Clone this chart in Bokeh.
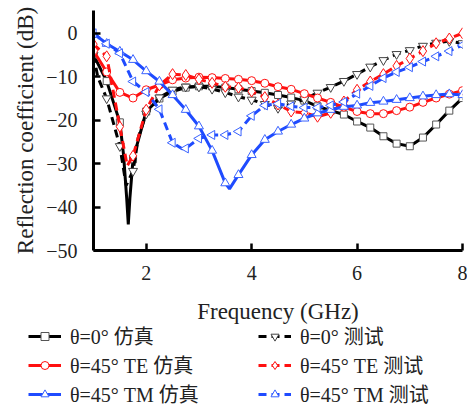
import math
from bokeh.plotting import figure
from bokeh.models import Legend, LegendItem, Range1d, FixedTicker
from bokeh.embed import file_html
from bokeh.resources import INLINE

# Frequency grid (GHz) where markers are placed
freq = [1.0, 1.25, 1.5, 1.75, 2.0, 2.25, 2.5, 2.75, 3.0, 3.25, 3.5, 3.75, 4.0, 4.25, 4.5,
        4.75, 5.0, 5.25, 5.5, 5.75, 6.0, 6.25, 6.5, 6.75, 7.0, 7.25, 7.5, 7.75, 8.0]

# theta=0 simulation
sim0 = [-5, -11, -20.5, -29, -18, -15, -13.4, -12.5, -12.2, -12.2, -12.5, -12.9, -13.3, -13.7, -14.2,
        -14.8, -15.5, -16.8, -17.8, -18.7, -20.3, -21.7, -23.7, -25.4, -26, -24, -21, -17.8, -14.9]
sim0_xf = [1.57, 1.63, 1.66, 1.69]
sim0_xv = [-28, -38, -44, -38]

# theta=0 measurement
mea0 = [-5, -15, -26, -31.7, -18.5, -14.8, -13, -12.3, -12.3, -12.8, -13.6, -14.6, -15.3, -16.3, -17.2,
        -16.2, -15.2, -13.7, -12.4, -11, -9.4, -7.7, -6.2, -4.8, -3.9, -2.9, -2.2, -1.8, -2.3]
mea0_xf = [1.08, 1.62, 1.85]
mea0_xv = [-10, -35, -24]

# theta=45 TE simulation
simTE = [-4, -8.9, -13.6, -14.9, -13, -11.9, -10.7, -10.3, -10.1, -10.2, -10.4, -10.6, -10.9, -11.5, -12.3,
         -12.9, -13.9, -14.9, -15.9, -17, -18, -18.5, -18.5, -17.8, -17, -15.9, -14.9, -14, -13.2]
simTE_xf = []
simTE_xv = []

# theta=45 TE measurement
meaTE = [-2.5, -5.3, -21.5, -28.2, -17.6, -12, -9.4, -9.6, -10.6, -11.4, -12.3, -12.5, -13.4, -14.7, -16.4,
         -18, -18.3, -19.2, -18.3, -15.7, -13, -11.1, -9.4, -7.5, -5.8, -4.1, -2.3, -1.2, 0]
meaTE_xf = [1.64]
meaTE_xv = [-30.5]

# theta=45 TM simulation
simTM = [0, -2.4, -4.2, -6.1, -8.7, -11.1, -14.2, -17.6, -21.4, -27, -34.5, -32.6, -28, -24.5, -22.6,
         -21, -19.6, -18.4, -17.6, -16.9, -16.6, -16, -15.7, -15.3, -14.9, -14.5, -14.2, -14, -14.2]
simTM_xf = [3.58]
simTM_xv = [-35.8]

# theta=45 TM measurement
meaTM = [0, -2.4, -4.6, -11.1, -13.5, -17.5, -25.2, -26.5, -24.2, -23.4, -23.4, -22.6, -19, -16.6, -16.2,
         -16.8, -17.1, -17.1, -16.6, -15.8, -13.9, -12.1, -10.3, -8.9, -7.8, -6.5, -5.3, -4.1, -2.7]
meaTM_xf = [2.68]
meaTM_xv = [-26.6]

labels = ["θ=0° 仿真", "θ=0° 测试", "θ=45° TE 仿真", "θ=45° TE 测试", "θ=45° TM 仿真", "θ=45° TM 测试"]
y_ticks = [-50, -40, -30, -20, -10, 0]
x_ticks = [2, 4, 6, 8]

SERIF = "Liberation Serif"
LEG_FONT = "Liberation Serif, Noto Sans CJK SC"

p = figure(width=467, height=326, x_range=Range1d(1, 8), y_range=Range1d(-50, 5.25),
           output_backend="svg", toolbar_location=None,
           min_border_left=93, min_border_right=5, min_border_top=10, min_border_bottom=74)
p.outline_line_color = None
p.grid.visible = False
p.background_fill_color = "white"
p.border_fill_color = "white"

for ax in (p.xaxis[0], p.yaxis[0]):
    ax.axis_line_width = 3
    ax.axis_line_color = "black"
    ax.major_tick_in = 7
    ax.major_tick_out = 0
    ax.major_tick_line_width = 2.5
    ax.minor_tick_line_color = None
    ax.major_label_text_font = SERIF
    ax.major_label_text_font_size = "20px"
    ax.major_label_text_color = "#222222"
    ax.axis_label_text_font = SERIF
    ax.axis_label_text_font_size = "23px"
    ax.axis_label_text_font_style = "normal"
    ax.axis_label_text_color = "#222222"

p.xaxis.ticker = FixedTicker(ticks=x_ticks)
p.yaxis.ticker = FixedTicker(ticks=y_ticks)
p.yaxis.major_label_overrides = {t: (("\u2212" + str(abs(t))) if t < 0 else str(t)) for t in y_ticks}
p.xaxis.axis_label = "Frequency (GHz)"
p.yaxis.axis_label = "Reflection coefficient (dB)"
p.xaxis.major_label_standoff = 15
p.yaxis.major_label_standoff = 16
p.xaxis.axis_label_standoff = 16
p.yaxis.axis_label_standoff = 5


def merged(vals, xf, xv):
    pts = sorted(list(zip(freq, vals)) + list(zip(xf, xv)))
    return [a for a, _ in pts], [b for _, b in pts]


BLACK = "#000000"
RED = "#ff1010"
BLUE = "#1f4bff"

series = [
    (sim0, sim0_xf, sim0_xv, BLACK, "solid", "square", 0.0, 7, "#555555"),
    (mea0, mea0_xf, mea0_xv, BLACK, "8 5", "inverted_triangle", 0.0, 9, "#444444"),
    (simTE, simTE_xf, simTE_xv, RED, "solid", "circle", 0.0, 8, RED),
    (meaTE, meaTE_xf, meaTE_xv, RED, "8 5", "diamond", 0.0, 11, RED),
    (simTM, simTM_xf, simTM_xv, BLUE, "solid", "triangle", 0.0, 9, "#3a63ff"),
    (meaTM, meaTM_xf, meaTM_xv, BLUE, "8 5", "triangle", math.pi / 2, 9, "#3a63ff"),
]

# Legend panel below the chart (its copies of the series lie outside its visible range)
p2 = figure(width=467, height=84, x_range=Range1d(0, 1), y_range=Range1d(100, 101),
            output_backend="svg", toolbar_location=None,
            x_axis_type=None, y_axis_type=None, min_border=0)
p2.outline_line_color = None
p2.grid.visible = False

items = []
for (vals, xf, xv, col, dash, mk, ang, sz, mcol), lab in zip(series, labels):
    lx, ly = merged(vals, xf, xv)
    p.line(lx, ly, line_color=col, line_width=3, line_dash=dash)
    p.scatter(freq, vals, marker=mk, angle=ang, size=sz, line_color=mcol,
              fill_color="white", line_width=1)
    lr = p2.line(lx, ly, line_color=col, line_width=3, line_dash=dash)
    sr = p2.scatter(freq, vals, marker=mk, angle=ang, size=sz, line_color=mcol,
                    fill_color="white", line_width=1)
    items.append(LegendItem(label=lab, renderers=[lr, sr]))


def make_legend(its, loc):
    return Legend(items=its, location=loc, orientation="vertical",
                  glyph_width=33, glyph_height=20, label_height=20, label_standoff=9,
                  spacing=-6, padding=0, margin=0, border_line_color=None,
                  background_fill_alpha=0, label_text_font=LEG_FONT,
                  label_text_line_height=1.0,
                  label_text_font_size="20px", label_text_color="#222222")


p2.add_layout(make_legend([items[0], items[2], items[4]], (28, 2)))
p2.add_layout(make_legend([items[1], items[3], items[5]], (258, 2)))

open("out.html", "w").write(file_html([p, p2], INLINE))
